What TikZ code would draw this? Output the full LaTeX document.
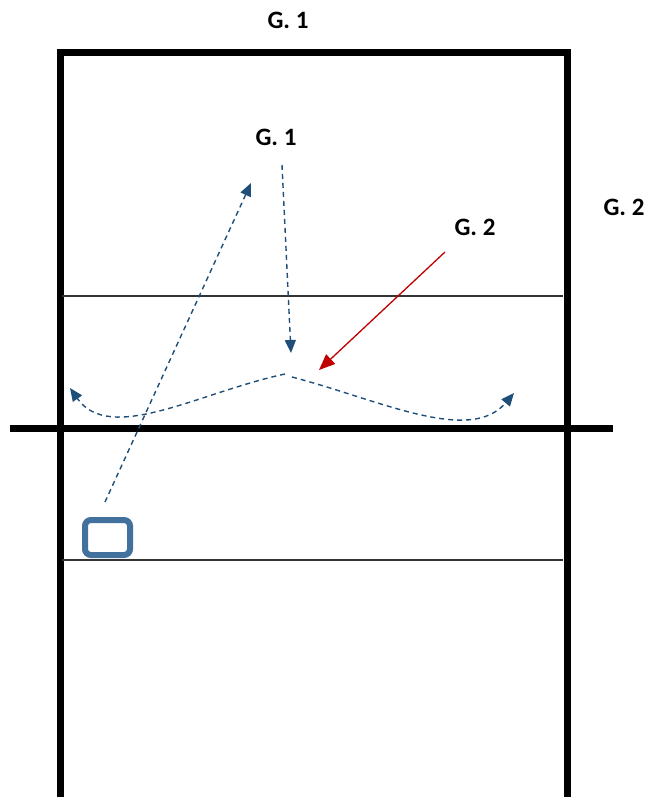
\documentclass[tikz,border=0pt]{standalone}
\usepackage{fontspec}
\setmainfont{Carlito}
\usetikzlibrary{arrows.meta}
\definecolor{pathblue}{HTML}{1F4E79}
\definecolor{boxblue}{HTML}{41719C}
\definecolor{redarrow}{HTML}{C00000}
\tikzset{
  lbl/.style={inner sep=0pt, font=\fontsize{25}{30}\selectfont\bfseries},
  thick court/.style={line width=7pt, black},
  thin court/.style={line width=1.8pt, black!80},
  move/.style={pathblue, line width=1.4pt, dash pattern=on 5pt off 4pt,
    -{Triangle[length=13pt,width=11pt]}},
  attack/.style={redarrow, line width=1.3pt, -{Triangle[length=16pt,width=13pt]}},
  player/.style={draw=boxblue, line width=6pt, rounded corners=6pt,
    minimum width=45pt, minimum height=35pt, inner sep=0pt}
}
\begin{document}
\begin{tikzpicture}[x=1pt,y=-1pt]
\useasboundingbox (0,0) rectangle (646,797);
\fill[white] (0,0) rectangle (646,797);
% court
\draw[thick court] (60,797) -- (60,53) -- (567,53) -- (567,797);
\draw[thick court] (10,428) -- (613,428);
\draw[thin court] (62,296) -- (563,296);
\draw[thin court] (62,560) -- (563,560);
% labels
\node[lbl] (g1top) at (288,20) {G. 1};
\node[lbl] (g1) at (276,137.5) {G. 1};
\node[lbl] (g2) at (475,227.5) {G. 2};
\node[lbl] (g2right) at (624,207.5) {G. 2};
% player box
\node[player] (p) at (107.5,537.5) {};
% coordinates
\coordinate (s1) at (105,502);
\coordinate (e1) at (251,183);
\coordinate (s2) at (282,165);
\coordinate (e2) at (291,353);
\coordinate (s3) at (445,252);
\coordinate (e3) at (319,370);
\coordinate (c1) at (285,374);
\coordinate (e4) at (70,388);
\coordinate (c2) at (292,377);
\coordinate (e5) at (514,393);
% arrows
\draw[move] (s1) -- (e1);
\draw[move] (s2) -- (e2);
\draw[attack] (s3) -- (e3);
\draw[move] (c1) .. controls (200,392) and (110,445) .. (e4);
\draw[move] (c2) .. controls (380,400) and (470,445) .. (e5);
\end{tikzpicture}
\end{document}
